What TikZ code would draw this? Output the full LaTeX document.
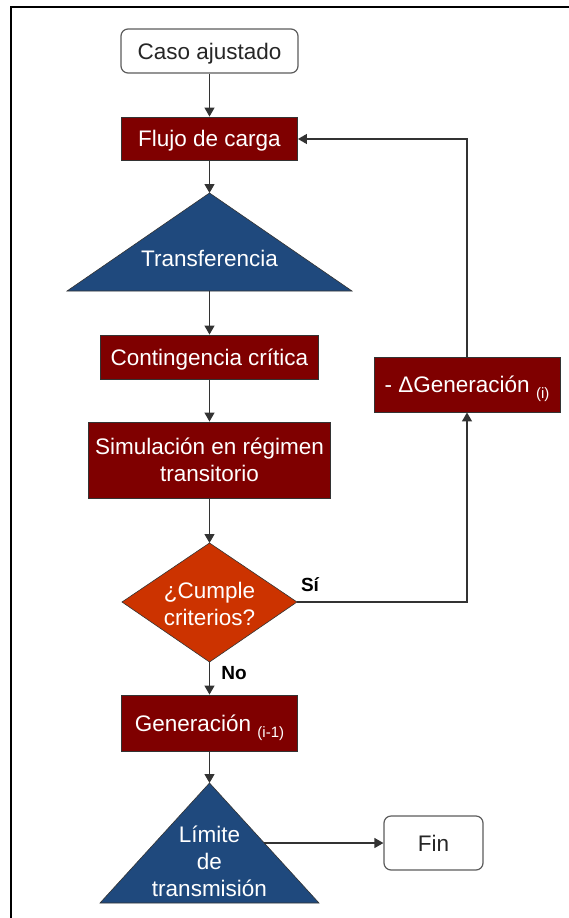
\documentclass[tikz,border=0pt]{standalone}
\usepackage{fontspec}
\setmainfont{Liberation Sans}
\usetikzlibrary{arrows.meta}
\definecolor{boxred}{HTML}{7F0000}
\definecolor{triblue}{HTML}{1F497D}
\definecolor{decorange}{HTML}{CC3300}
\definecolor{linegray}{HTML}{333333}
\begin{document}
\begin{tikzpicture}[x=1pt,y=-1pt,
  every node/.style={font=\fontsize{22.5}{27}\selectfont},
  terminal/.style={draw=linegray!80,line width=1.2pt,rounded corners=7pt,fill=white,text=black!85,inner sep=0pt,text depth=0pt},
  process/.style={draw=black!80,line width=0.9pt,fill=boxred,text=white,inner sep=0pt,align=center},
  oneline/.style={text depth=0pt},
  label/.style={text=white,align=center,inner sep=0pt},
  flow/.style={draw=linegray,line width=1.3pt,-{Triangle[length=9pt,width=10pt]}},
  tag/.style={font=\fontsize{19}{22}\selectfont\bfseries,text=black,inner sep=0pt}]
\useasboundingbox (0,0) rectangle (569,918);
% frame
\draw[line width=1.8pt] (11,918) -- (11,7) -- (569,7);

% terminals and process boxes
\node[terminal,minimum width=177pt,minimum height=44pt] (caso) at (209.5,51) {Caso ajustado};
\node[process,oneline,minimum width=176pt,minimum height=43pt] (flujo) at (209.5,138.5) {Flujo de carga};
\node[process,oneline,minimum width=218pt,minimum height=44pt] (cont) at (209.5,357) {Contingencia crítica};
\node[process,minimum width=242pt,minimum height=76pt] (sim) at (209.5,460) {Simulación en régimen\\transitorio};
\node[process,oneline,minimum width=176pt,minimum height=56pt] (gen) at (209.5,723) {Generación \raisebox{-0.5ex}{\fontsize{15}{17}\selectfont(i-1)}};
\node[process,oneline,minimum width=186pt,minimum height=55pt] (dgen) at (467,384.5) {- ΔGeneración \raisebox{-0.5ex}{\fontsize{15}{17}\selectfont(i)}};
\node[terminal,minimum width=99pt,minimum height=54pt] (fin) at (433.5,843) {Fin};

% triangle: Transferencia
\coordinate (tA) at (209.5,193);
\coordinate (tB) at (209.5,291);
\filldraw[fill=triblue,draw=black!80,line width=0.6pt] (tA) -- (352,291) -- (67,291) -- cycle;
\node[label] (trans) at (209.5,258) {Transferencia};

% decision diamond
\coordinate (dT) at (209.5,543);
\coordinate (dB) at (209.5,662);
\coordinate (dL) at (122,602);
\coordinate (dR) at (297,602);
\filldraw[fill=decorange,draw=black!80,line width=0.6pt] (dT) -- (dR) -- (dB) -- (dL) -- cycle;
\node[label] (cumple) at (209.5,604) {¿Cumple\\criterios?};

% triangle: Limite de transmision
\coordinate (lA) at (209.5,783);
\coordinate (lE) at (264,843);
\filldraw[fill=triblue,draw=black!80,line width=0.6pt] (lA) -- (319,903) -- (100,903) -- cycle;
\node[label] (limite) at (209.5,861) {Límite\\de\\transmisión};

% connectors
\draw[flow] (caso) -- (flujo);
\draw[flow] (flujo) -- (tA);
\draw[flow] (tB) -- (cont);
\draw[flow] (cont) -- (sim);
\draw[flow] (sim) -- (dT);
\draw[flow] (dB) -- (gen);
\draw[flow] (gen) -- (lA);
\draw[flow] (lE) -- (fin);
\coordinate (cR) at (467,602);
\coordinate (cT) at (467,139);
\draw[flow] (dR) -- (cR) -- (dgen);
\draw[flow] (dgen) -- (cT) -- (flujo.east |- cT);

% branch labels
\node[tag] (si) at (310,585) {Sí};
\node[tag] (no) at (234,673) {No};
\end{tikzpicture}
\end{document}
